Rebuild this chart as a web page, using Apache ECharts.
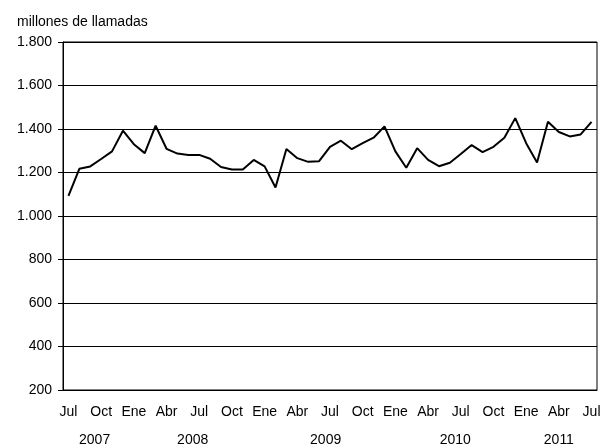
<!DOCTYPE html>
<html><head><meta charset="utf-8">
<script src="https://cdn.jsdelivr.net/npm/echarts@6/dist/echarts.min.js"></script>
<style>html,body{margin:0;padding:0;background:#fff}#c{width:609px;height:448px}</style>
</head><body><div id="c"></div>
<script>
const months = ['Jul','Ago','Sep','Oct','Nov','Dic','Ene','Feb','Mar','Abr','May','Jun'];
const categories = [];
for (let i = 0; i < 49; i++) categories.push(months[i % 12]);
const llamadas = [1093,1217,1228,1262,1297,1392,1330,1289,1415,1309,1287,1281,1281,1263,1225,1214,
  1214,1258,1228,1131,1308,1266,1249,1252,1318,1346,1307,1335,1360,1412,1297,1222,
  1312,1258,1229,1245,1285,1326,1294,1318,1360,1450,1335,1246,1433,1386,1366,1375,1433];
const years = ['2007','2008','2009','2010','2011'];
const yearPos = [2.4, 11.4, 23.6, 35.5, 45];
const yTicks = {min:200, max:1800, interval:200};

const chart = echarts.init(document.getElementById('c'), null, {renderer:'canvas'});
const font = 'Liberation Sans, Arial, sans-serif';
const grid = {left:63, right:12, top:42, bottom:58};
chart.setOption({
  animation:false,
  backgroundColor:'#fff',
  grid: Object.assign({show:true, borderColor:'#000', borderWidth:1}, grid),
  title:{text:'millones de llamadas', left:12, top:10, textStyle:{fontFamily:font, fontSize:14, fontWeight:'normal', color:'#000'}},
  xAxis:{type:'category', data:categories, boundaryGap:true,
    axisLine:{lineStyle:{color:'#000'}}, axisTick:{show:false},
    axisLabel:{interval:2, margin:15, color:'#000', fontFamily:font, fontSize:14}},
  yAxis:{type:'value', min:yTicks.min, max:yTicks.max, interval:yTicks.interval,
    axisLine:{show:true, lineStyle:{color:'#000'}}, axisTick:{show:true, length:5, lineStyle:{color:'#000'}},
    splitLine:{lineStyle:{color:'#000', width:1}},
    axisLabel:{margin:11, color:'#000', fontFamily:font, fontSize:14,
      formatter:v=>v.toLocaleString('de-DE')}},
  series:[{type:'line', data:llamadas, symbol:'none', lineStyle:{color:'#000', width:2}}]
});
const x0 = chart.convertToPixel({xAxisIndex:0}, 0);
const x1 = chart.convertToPixel({xAxisIndex:0}, 1);
const band = x1 - x0;
chart.setOption({graphic: years.map((y,i)=>({type:'text', x: x0 + yearPos[i]*band, y: 440,
  style:{text:y, fill:'#000', font:'14px '+font, textAlign:'center', textVerticalAlign:'middle'}}))});
</script></body></html>
